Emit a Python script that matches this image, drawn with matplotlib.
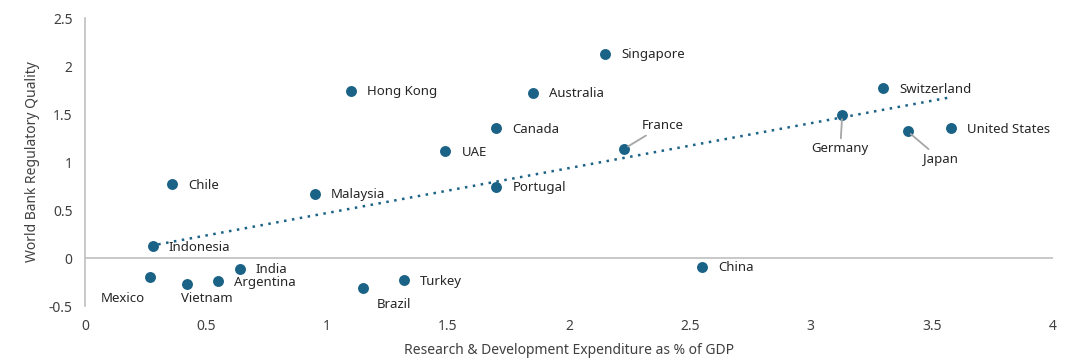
import numpy as np
import matplotlib.pyplot as plt

plt.rcParams['font.family'] = ['Noto Sans', 'DejaVu Sans']

# data
countries = ["Singapore", "Hong Kong", "Australia", "Switzerland", "Canada", "UAE",
             "France", "Germany", "Japan", "United States", "Chile", "Malaysia",
             "Portugal", "Indonesia", "India", "Mexico", "Vietnam", "Argentina",
             "Brazil", "Turkey", "China"]
rd_gdp = [2.15, 1.10, 1.85, 3.30, 1.70, 1.49,
          2.23, 3.13, 3.40, 3.58, 0.36, 0.95,
          1.70, 0.28, 0.64, 0.27, 0.42, 0.55,
          1.15, 1.32, 2.55]
reg_quality = [2.13, 1.74, 1.72, 1.77, 1.35, 1.11,
               1.14, 1.49, 1.32, 1.35, 0.77, 0.67,
               0.74, 0.12, -0.11, -0.20, -0.27, -0.24,
               -0.31, -0.23, -0.09]

# label offsets in pixels (dx, dy, ha, leader line)
offsets = {
    "Mexico": (-28, -21, "center", False),
    "Vietnam": (20, -15, "center", False),
    "Brazil": (31, -17, "center", False),
    "Germany": (-2, -34, "center", True),
    "Japan": (33, -28, "center", True),
    "France": (38, 23, "center", True),
}

color = "#1b6287"
grey = "#bfbfbf"

fig = plt.figure(figsize=(10.8, 3.6), dpi=100)
ax = fig.add_axes([0.0787, 0.15, 0.896, 0.80])

ax.scatter(rd_gdp, reg_quality, s=62, color=color, zorder=3, linewidths=0)

# linear trendline
x = np.array(rd_gdp)
y = np.array(reg_quality)
k, b = np.polyfit(x, y, 1)
xt = np.array([x.min(), x.max()])
ax.plot(xt, k * xt + b, linestyle=(0, (1, 2.2)), color=color, lw=1.8, zorder=2)

px = 0.72  # pixels to points at 100 dpi
for name, xv, yv in zip(countries, rd_gdp, reg_quality):
    if name in offsets:
        dx, dy, ha, line = offsets[name]
        ax.annotate(name, (xv, yv), xytext=(dx * px, dy * px), textcoords="offset points",
                    ha=ha, va="center", fontsize=9.5, color="#262626",
                    arrowprops=dict(arrowstyle="-", color="#a6a6a6", lw=1.3,
                                    shrinkA=1, shrinkB=3) if line else None)
    else:
        dy = -1 if name != "Indonesia" else -1.5
        ax.annotate(name, (xv, yv), xytext=(16 * px, dy * px), textcoords="offset points",
                    ha="left", va="center", fontsize=9.5, color="#262626")

ax.axhline(0, color=grey, lw=1.2, zorder=1)
ax.set_xlim(0, 4)
ax.set_ylim(-0.5, 2.5)
ax.set_xticks(np.arange(0, 4.01, 0.5))
ax.set_xticklabels(["0", "0.5", "1", "1.5", "2", "2.5", "3", "3.5", "4"])
ax.set_yticks(np.arange(-0.5, 2.51, 0.5))
ax.set_yticklabels(["-0.5", "0", "0.5", "1", "1.5", "2", "2.5"])
ax.tick_params(length=0, labelsize=10, colors="#404040", pad=9)
for s in ["top", "right", "bottom"]:
    ax.spines[s].set_visible(False)
ax.spines["left"].set_color(grey)
ax.spines["left"].set_linewidth(1.2)

ax.set_xlabel("Research & Development Expenditure as % of GDP", fontsize=10, color="#404040", labelpad=7)
ax.set_ylabel("World Bank Regulatory Quality", fontsize=10, color="#404040", labelpad=6)

fig.savefig("out.png", dpi=100)
